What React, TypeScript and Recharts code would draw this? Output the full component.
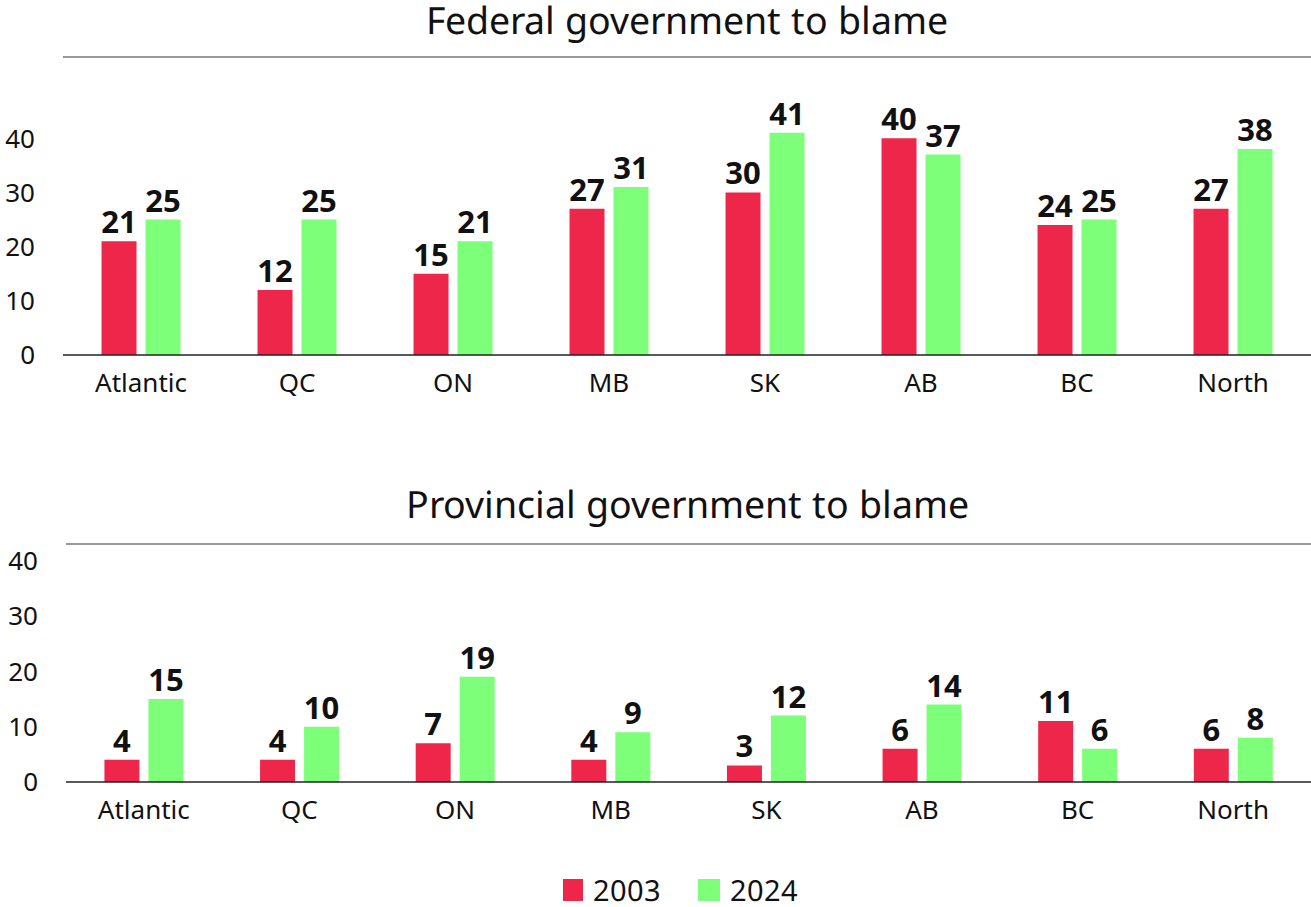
import React from 'react'
import { BarChart, Bar, XAxis, YAxis, LabelList, ReferenceLine } from 'recharts'

const regions = ['Atlantic', 'QC', 'ON', 'MB', 'SK', 'AB', 'BC', 'North']
const federal2003 = [21, 12, 15, 27, 30, 40, 24, 27]
const federal2024 = [25, 25, 21, 31, 41, 37, 25, 38]
const provincial2003 = [4, 4, 7, 4, 3, 6, 11, 6]
const provincial2024 = [15, 10, 19, 9, 12, 14, 6, 8]
const yTicks = [0, 10, 20, 30, 40]

const RED = '#EE2649'
const GREEN = '#7DFF7A'
const FONT = '"Noto Sans", sans-serif'
// same Noto Sans glyphs, tighter line box so big text near the page edges isn't clipped
const TIGHT = '"NotoTight", "Noto Sans", sans-serif'

const fontCss = `
@font-face {
  font-family: 'NotoTight';
  src: local('Noto Sans'), local('Noto Sans Regular'), local('NotoSans-Regular');
  ascent-override: 90%;
  descent-override: 15%;
  line-gap-override: 0%;
}
`

const federalData = regions.map((r, i) => ({ region: r, y2003: federal2003[i], y2024: federal2024[i] }))
const provincialData = regions.map((r, i) => ({ region: r, y2003: provincial2003[i], y2024: provincial2024[i] }))

interface PanelProps {
  data: any[]
  title: string
  top: number
  titleTop: number
  height: number
  marginTop: number
  axisWidth: number
  yMax: number
}

function Panel({ data, title, top, titleTop, height, marginTop, axisWidth, yMax }: PanelProps) {
  return (
    <>
      <div
        style={{
          position: 'absolute',
          left: 63,
          top: titleTop,
          width: 1248,
          textAlign: 'center',
          fontSize: 37.5,
          fontFamily: TIGHT,
          color: '#111',
          lineHeight: 'normal',
        }}
      >
        {title}
      </div>
      <div style={{ position: 'absolute', left: 0, top }}>
        <BarChart
          width={1311}
          height={height}
          data={data}
          margin={{ top: marginTop, right: 0, left: 0, bottom: 5 }}
          barCategoryGap="24.7%"
          barGap={9}
        >
          <ReferenceLine y={yMax} stroke="#777" strokeWidth={1.5} />
          <XAxis
            dataKey="region"
            axisLine={{ stroke: '#222', strokeWidth: 1.5 }}
            tickLine={false}
            tickSize={0}
            tickMargin={19}
            height={50}
            interval={0}
            tick={{ fill: '#111', fontSize: 26, fontFamily: FONT }}
          />
          <YAxis
            domain={[0, yMax]}
            ticks={yTicks}
            axisLine={false}
            tickLine={false}
            tickSize={0}
            tickMargin={28}
            width={axisWidth}
            tick={{ fill: '#111', fontSize: 26, fontFamily: FONT }}
          />
          <Bar dataKey="y2003" fill={RED} isAnimationActive={false}>
            <LabelList dataKey="y2003" position="top" offset={8} fill="#111" fontSize={31} fontWeight={700} fontFamily={FONT} />
          </Bar>
          <Bar dataKey="y2024" fill={GREEN} isAnimationActive={false}>
            <LabelList dataKey="y2024" position="top" offset={8} fill="#111" fontSize={31} fontWeight={700} fontFamily={FONT} />
          </Bar>
        </BarChart>
      </div>
    </>
  )
}

export default function App() {
  return (
    <div style={{ position: 'absolute', left: 0, top: 0, width: 1311, height: 907, background: '#fff', fontFamily: FONT, overflow: 'hidden' }}>
      <style>{fontCss}</style>
      <Panel
        data={federalData}
        title="Federal government to blame"
        titleTop={0}
        top={0}
        height={410}
        marginTop={57}
        axisWidth={63}
        yMax={55}
      />
      <Panel
        data={provincialData}
        title="Provincial government to blame"
        titleTop={484}
        top={470}
        height={367}
        marginTop={74}
        axisWidth={66}
        yMax={43}
      />
      <div
        style={{
          position: 'absolute',
          left: 6,
          top: 875,
          width: 1311,
          display: 'flex',
          justifyContent: 'center',
          alignItems: 'center',
          fontSize: 29,
          fontFamily: TIGHT,
          color: '#111',
          lineHeight: 'normal',
        }}
      >
        <span style={{ display: 'inline-block', width: 20, height: 22, background: RED, marginRight: 10, marginLeft: 38 }} />
        <span>2003</span>
        <span style={{ display: 'inline-block', width: 22, height: 22, background: GREEN, marginRight: 10, marginLeft: 37 }} />
        <span>2024</span>
      </div>
    </div>
  )
}
